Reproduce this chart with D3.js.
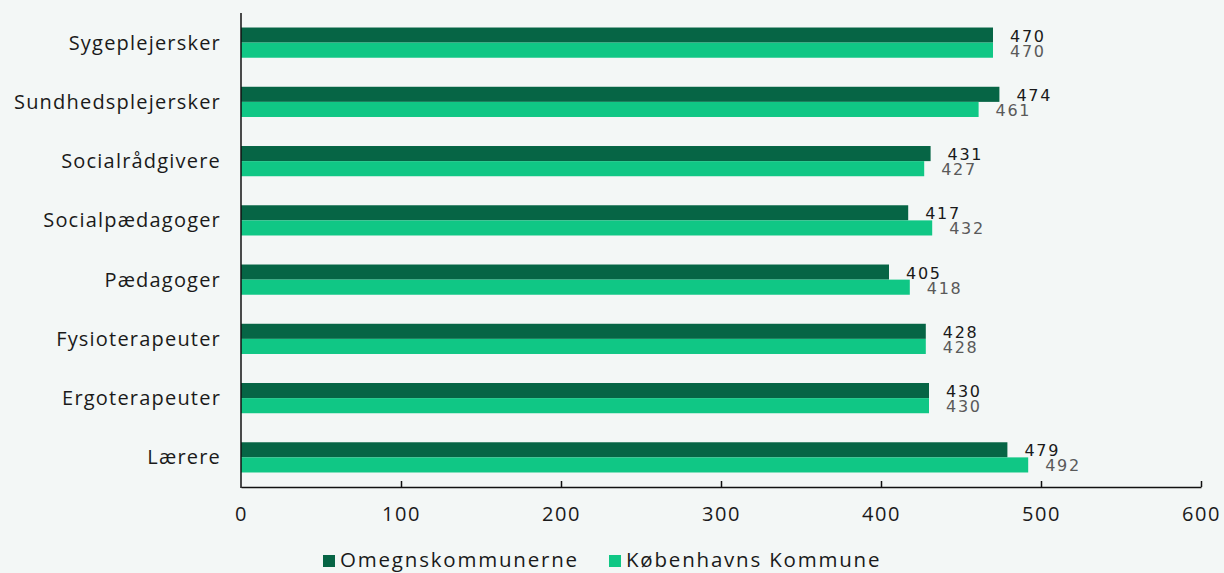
<!DOCTYPE html>
<html>
<head>
<meta charset="utf-8">
<script src="https://cdn.jsdelivr.net/npm/d3@7"></script>
<style>
  body { margin: 0; background: #f3f7f6; }
  svg { display: block; }
</style>
</head>
<body>
<svg id="chart"></svg>
<script>
const width = 1224;
const height = 573;

// Data
const categories = ["Sygeplejersker", "Sundhedsplejersker", "Socialrådgivere", "Socialpædagoger", "Pædagoger", "Fysioterapeuter", "Ergoterapeuter", "Lærere"];
const omegn = [470, 474, 431, 417, 405, 428, 430, 479];
const kbh = [470, 461, 427, 432, 418, 428, 430, 492];
const seriesNames = ["Omegnskommunerne", "Københavns Kommune"];
const colors = ["#066545", "#10c785"];
const xTicks = [0, 100, 200, 300, 400, 500, 600];

const margin = { top: 13, right: 23, bottom: 86, left: 241 };
const labelFont = "'Open Sans', sans-serif";

const svg = d3.select("#chart")
    .attr("width", width)
    .attr("height", height);

const x = d3.scaleLinear()
    .domain([0, 600])
    .range([margin.left, width - margin.right]);

const y = d3.scaleBand()
    .domain(categories)
    .range([margin.top, height - margin.bottom])
    .paddingInner(0.49)
    .paddingOuter(0.245);

const sub = d3.scaleBand()
    .domain([0, 1])
    .range([0, y.bandwidth()]);

const rows = categories.map((c, i) => ({ cat: c, vals: [omegn[i], kbh[i]] }));

const g = svg.selectAll(".row")
    .data(rows)
    .join("g")
    .attr("class", "row")
    .attr("transform", d => `translate(0,${y(d.cat)})`);

g.selectAll("rect")
    .data(d => d.vals)
    .join("rect")
    .attr("x", x(0))
    .attr("y", (d, i) => sub(i))
    .attr("width", d => x(d) - x(0))
    .attr("height", sub.bandwidth())
    .attr("fill", (d, i) => colors[i]);

// value labels
g.selectAll("text.val")
    .data(d => d.vals)
    .join("text")
    .attr("class", "val")
    .attr("x", d => x(d) + 17)
    .attr("y", (d, i) => sub(i) + sub.bandwidth() - 1)
    .attr("font-family", "'DejaVu Sans', sans-serif")
    .attr("font-size", 16)
    .attr("letter-spacing", 1.7)
    .attr("fill", (d, i) => i === 0 ? "#1a1a1a" : "#5a5a5a")
    .text(d => d);

// category labels
svg.selectAll("text.cat")
    .data(categories)
    .join("text")
    .attr("class", "cat")
    .attr("x", margin.left - 20)
    .attr("y", d => y(d) + y.bandwidth() / 2)
    .attr("dy", "0.35em")
    .attr("text-anchor", "end")
    .attr("font-family", labelFont)
    .attr("font-size", 20)
    .attr("letter-spacing", 1.2)
    .attr("fill", "#1a1a1a")
    .text(d => d);

// y axis line
svg.append("line")
    .attr("x1", x(0)).attr("x2", x(0))
    .attr("y1", margin.top).attr("y2", height - margin.bottom + 1)
    .attr("stroke", "#111").attr("stroke-width", 1.5);

// x axis
const xAxis = svg.append("g")
    .attr("transform", `translate(0,${height - margin.bottom})`)
    .call(d3.axisBottom(x).tickValues(xTicks).tickSize(-6).tickPadding(20).tickSizeOuter(0));

xAxis.select(".domain").attr("stroke", "#111").attr("stroke-width", 1.5);
xAxis.selectAll(".tick line").attr("stroke", "#111").attr("stroke-width", 1.5)
    .attr("display", d => d === 0 ? "none" : null);
xAxis.selectAll(".tick text")
    .attr("font-family", labelFont)
    .attr("font-size", 20)
    .attr("letter-spacing", 1.6)
    .attr("fill", "#1a1a1a")
    .attr("dy", "0.71em");

// legend
const legendX = [323, 609];
const legend = svg.selectAll(".legend")
    .data(seriesNames)
    .join("g")
    .attr("class", "legend")
    .attr("transform", (d, i) => `translate(${legendX[i]},560)`);

legend.append("rect")
    .attr("x", 0).attr("y", -5)
    .attr("width", 12).attr("height", 12)
    .attr("fill", (d, i) => colors[i]);

legend.append("text")
    .attr("x", 17)
    .attr("dy", "0.35em")
    .attr("font-family", labelFont)
    .attr("font-size", 20.5)
    .attr("letter-spacing", 1.8)
    .attr("fill", "#1a1a1a")
    .text(d => d);
</script>
</body>
</html>
